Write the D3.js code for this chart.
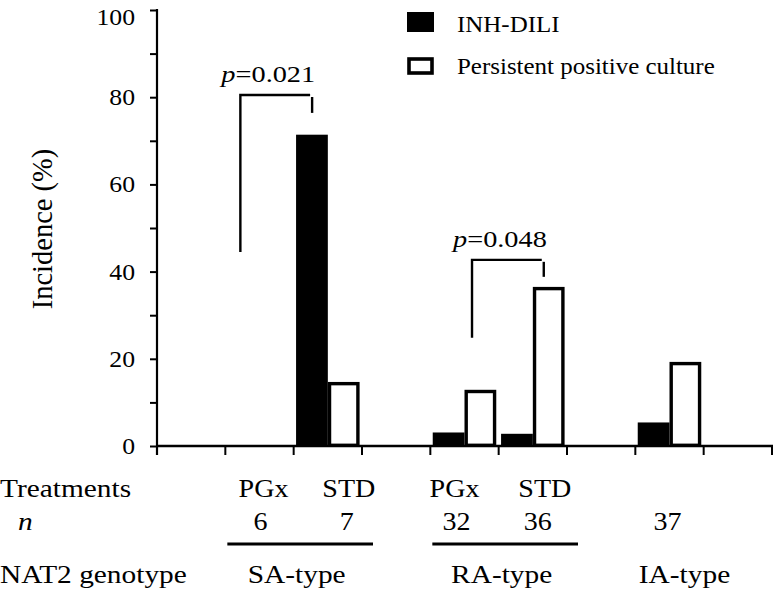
<!DOCTYPE html>
<html>
<head>
<meta charset="utf-8">
<script src="https://cdn.jsdelivr.net/npm/d3@7"></script>
<style>
  html, body { margin: 0; padding: 0; background: #fff; }
  svg { display: block; }
</style>
</head>
<body>
<svg id="chart" width="776" height="594"></svg>
<script>
// ---- data ----
const slots = ["", "SA-PGx", "SA-STD", "", "RA-PGx", "RA-STD", "", "IA", ""];
const inhDili = [null, 0, 71.4, null, 3.1, 2.8, null, 5.4, null];
const persistentCulture = [null, 0, 14.3, null, 12.5, 36.1, null, 18.9, null];
const treatments = ["", "PGx", "STD", "", "PGx", "STD", "", "", ""];
const nValues = ["", "6", "7", "", "32", "36", "", "37", ""];
const genotypeLabels = ["SA-type", "RA-type", "IA-type"];
const genotypeSlots = [["SA-PGx", "SA-STD"], ["RA-PGx", "RA-STD"], ["IA"]];
const genotypeUnderline = [true, true, false];
const yTicks = [0, 20, 40, 60, 80, 100];
const yMinorTicks = [10, 30, 50, 70, 90];
const seriesNames = ["INH-DILI", "Persistent positive culture"];
// significance brackets: [slot A, slot B, left bottom, top, right bottom, label]
const brackets = [
  ["SA-PGx", "SA-STD", 44.5, 80.5, 76.4, "0.021"],
  ["RA-PGx", "RA-STD", 24.8, 42.7, 38.8, "0.048"]
];

// ---- layout ----
const FONT = "'Liberation Serif', 'Times New Roman', Times, serif";
const svg = d3.select("#chart");
const X0 = 157, X1 = 772, Y0 = 446, Y1 = 10;
const x = d3.scaleBand().domain(d3.range(slots.length)).range([X0, X1]).paddingInner(0).paddingOuter(0);
const y = d3.scaleLinear().domain([0, 100]).range([Y0, Y1]);
const bw = x.bandwidth();
const pad = 2.4;
const barW = (bw - 2 * pad) / 2;
const SX = 1.13; // horizontal stretch of glyphs in the reference

function stext(g, str, px, py, size, anchor, sx, italic) {
  const t = g.append("text")
    .attr("transform", `translate(${px},${py}) scale(${sx || SX},1)`)
    .attr("font-size", size)
    .attr("text-anchor", anchor || "start")
    .style("font-family", FONT)
    .attr("fill", "#000");
  if (italic) t.attr("font-style", "italic");
  t.text(str);
  return t;
}

// ---- bars ----
const gBars = svg.append("g");
slots.forEach((s, i) => {
  const v1 = inhDili[i], v2 = persistentCulture[i];
  const bx = x(i) + pad;
  if (v1 != null && v1 > 0) {
    gBars.append("rect")
      .attr("x", bx).attr("y", y(v1))
      .attr("width", barW).attr("height", y(0) - y(v1))
      .attr("fill", "#000");
  }
  if (v2 != null && v2 > 0) {
    const sw = 3.4;
    gBars.append("rect")
      .attr("x", bx + barW + sw / 2).attr("y", y(v2))
      .attr("width", barW - sw).attr("height", y(0) - y(v2) - sw / 2 + 1)
      .attr("fill", "#fff").attr("stroke", "#000").attr("stroke-width", sw);
  }
});

// ---- axes ----
const yAxis = d3.axisLeft(y).tickValues(yTicks.concat(yMinorTicks)).tickSize(7).tickFormat("");
const gy = svg.append("g").attr("transform", `translate(${X0},0)`).call(yAxis);
gy.select(".domain").remove();
gy.selectAll(".tick line").attr("stroke", "#000").attr("stroke-width", 2);
gy.selectAll(".tick text").remove();
yTicks.forEach(v => stext(svg, String(v), 135, Math.max(y(v) + 8, 25), 23, "end", 1.12));
svg.append("line").attr("x1", X0).attr("x2", X0).attr("y1", Y1 - 1).attr("y2", Y0 + 9)
  .attr("stroke", "#000").attr("stroke-width", 2.2);

const xAxis = d3.axisBottom(x).tickSize(9).tickFormat("");
const gx = svg.append("g").attr("transform", `translate(0,${Y0})`).call(xAxis);
gx.select(".domain").remove();
gx.selectAll(".tick").remove();
const boundaries = d3.range(1, slots.length + 1).map(i => X0 + i * bw);
boundaries.forEach(bx => {
  svg.append("line").attr("x1", bx).attr("x2", bx).attr("y1", Y0).attr("y2", Y0 + 9)
    .attr("stroke", "#000").attr("stroke-width", 2);
});
svg.append("line").attr("x1", X0).attr("x2", X1 + 1).attr("y1", Y0).attr("y2", Y0)
  .attr("stroke", "#000").attr("stroke-width", 2.4);

// y-axis title
svg.append("text")
  .attr("transform", `translate(52,229) rotate(-90)`)
  .attr("font-size", 28.5).attr("text-anchor", "middle")
  .style("font-family", FONT).attr("fill", "#000")
  .text("Incidence (%)");

// ---- significance brackets ----
brackets.forEach((b, k) => {
  const ia = slots.indexOf(b[0]), ib = slots.indexOf(b[1]);
  const lx = x(ia) + (k === 0 ? 0.22 : 0.61) * bw;
  const rx = x(ib) + (k === 0 ? 0.27 : 0.66) * bw;
  svg.append("path")
    .attr("d", `M${lx},${y(b[2])}V${y(b[3])}H${rx - 2}`)
    .attr("fill", "none").attr("stroke", "#000").attr("stroke-width", 2.4);
  svg.append("line").attr("x1", rx).attr("x2", rx).attr("y1", y(b[3]) + 2).attr("y2", y(b[4]))
    .attr("stroke", "#000").attr("stroke-width", 2.4);
  const t = svg.append("text")
    .attr("transform", `translate(${lx - 19},${y(b[3]) - 13}) scale(1.18,1)`)
    .attr("font-size", 24).style("font-family", FONT).attr("fill", "#000");
  t.append("tspan").attr("font-style", "italic").text("p");
  t.append("tspan").text("=" + b[5]);
});

// ---- legend ----
svg.append("rect").attr("x", 407).attr("y", 12).attr("width", 27).attr("height", 20).attr("fill", "#000");
svg.append("rect").attr("x", 409).attr("y", 59).attr("width", 23).attr("height", 14)
  .attr("fill", "#fff").attr("stroke", "#000").attr("stroke-width", 3.6);
stext(svg, seriesNames[0], 457, 32, 24, "start", 1.04);
stext(svg, seriesNames[1], 457, 74, 24, "start", 1.04);

// ---- bottom table ----
stext(svg, "Treatments", 0, 497, 26, "start", 1.13);
stext(svg, "n", 18, 530, 26, "start", 1.13, true);
stext(svg, "NAT2 genotype", 0, 583, 26, "start", 1.13);

const treatDx = [0, 4, 21, 0, -10, 12, 0, 0, 0];
const nDx = [0, 1, 19, 0, -8, 5, 0, -2, 0];
slots.forEach((s, i) => {
  const cx = x(i) + bw / 2;
  if (treatments[i]) stext(svg, treatments[i], cx + treatDx[i], 497, 25.5, "middle", 1.1);
  if (nValues[i]) stext(svg, nValues[i], cx + nDx[i], 530, 25.5, "middle", 1.1);
});

genotypeLabels.forEach((lab, g) => {
  const idx = genotypeSlots[g].map(s => slots.indexOf(s));
  const left = x(d3.min(idx)), right = x(d3.max(idx)) + bw;
  const cx = (left + right) / 2;
  if (genotypeUnderline[g]) {
    svg.append("line").attr("x1", left + 2).attr("x2", right + 11)
      .attr("y1", 544).attr("y2", 544).attr("stroke", "#000").attr("stroke-width", 3);
  }
  stext(svg, lab, cx + (g === 2 ? 15 : 3), 583, 26, "middle", 1.13);
});
</script>
</body>
</html>
